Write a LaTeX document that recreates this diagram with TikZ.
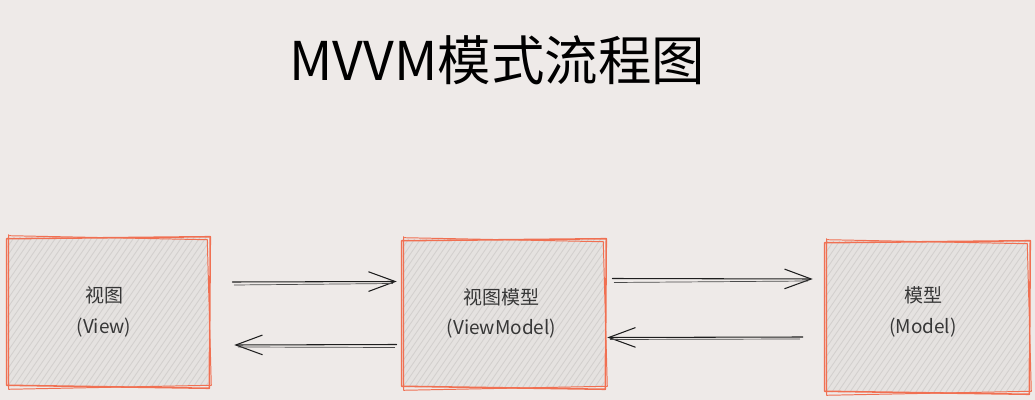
\documentclass[tikz,border=0pt]{standalone}
\usepackage{fontspec}
\setmainfont{Noto Sans CJK SC}
\usetikzlibrary{arrows.meta,calc}

\definecolor{paper}{RGB}{238,234,232}
\definecolor{boxfill}{RGB}{229,226,224}
\definecolor{hatchc}{RGB}{211,208,206}
\definecolor{edge}{RGB}{240,112,82}
\definecolor{ink}{RGB}{30,30,30}
\definecolor{labelc}{RGB}{55,55,55}

\tikzset{
  box/.style={minimum width=#1*0.025cm, inner sep=0pt, align=center,
    text=labelc, font=\fontsize{13.5}{21.5}\selectfont},
  sk/.style={draw=edge, line width=1.1pt, line cap=round, line join=round},
  hatch/.style={draw=hatchc, line width=0.6pt},
  arr/.style={draw=ink, line width=0.75pt, line cap=round,
    -{Straight Barb[length=19pt,width=14pt,line width=0.75pt]}},
  arrb/.style={draw=ink!80, line width=0.5pt, line cap=round},
}

% hand-drawn box: hatched fill and two loose outlines
\newcommand\skbox[1]{%
  \fill[boxfill] (#1.south west) rectangle (#1.north east);
  \begin{scope}
    \clip (#1.south west) rectangle (#1.north east);
    \foreach \i in {-120,-114,...,210}
      \draw[hatch] ($(#1.south west)+(\i,0)$) -- ++(110,-160);
  \end{scope}
  \draw[sk] ($(#1.north west)+(-1,1)$) -- ($(#1.north east)+(2,-1)$)
            -- ($(#1.south east)+(1,2)$) -- ($(#1.south west)+(-1,-1)$) -- cycle;
  \draw[sk, line width=0.7pt] ($(#1.north west)+(2,-2)$) -- ($(#1.north east)+(-1,2)$)
            -- ($(#1.south east)+(3,-1)$) -- ($(#1.south west)+(1,3)$)
            -- ($(#1.north west)+(1,-3)$);
}

\begin{document}
\begin{tikzpicture}[x=0.025cm, y=-0.025cm]
  \fill[paper] (0,0) rectangle (1035,400);
  \useasboundingbox (0,0) rectangle (1035,400);

  \node[font=\fontsize{38}{40}\selectfont, text=black] (title) at (497,60) {MVVM模式流程图};

  \node[box=200, minimum height=148*0.025cm] (v)  at (108,312)   {};
  \node[box=201, minimum height=147*0.025cm] (vm) at (503.5,313.5) {};
  \node[box=202, minimum height=150*0.025cm] (m)  at (927,317)   {};

  \skbox{v}
  \skbox{vm}
  \skbox{m}

  \node[box=200, text=labelc] (vt) at ($(v.center)+(-4,0)$) {视图\\(View)};
  \node[box=200, text=labelc] (vmt) at ($(vm.center)+(-2,0)$) {视图模型\\(ViewModel)};
  \node[box=200, text=labelc] (mt) at ($(m.center)+(-4,-5)$) {模型\\(Model)};

  % View -> ViewModel
  \draw[arr] ($(v.east)+(24,-30)$) -- ($(vm.west)+(-6,-32)$);
  \draw[arrb] ($(v.east)+(26,-27)$) -- ($(vm.west)+(-10,-30)$);
  % ViewModel -> View
  \draw[arr] ($(vm.west)+(-6,31)$) -- ($(v.east)+(26,33)$);
  \draw[arrb] ($(vm.west)+(-8,34)$) -- ($(v.east)+(30,35)$);
  % ViewModel -> Model
  \draw[arr] ($(vm.east)+(8,-35)$) -- ($(m.west)+(-13,-38)$);
  \draw[arrb] ($(vm.east)+(10,-31)$) -- ($(m.west)+(-18,-36)$);
  % Model -> ViewModel
  \draw[arr] ($(m.west)+(-23,20)$) -- ($(vm.east)+(3,24)$);
  \draw[arrb] ($(m.west)+(-26,22)$) -- ($(vm.east)+(6,26)$);
\end{tikzpicture}
\end{document}
